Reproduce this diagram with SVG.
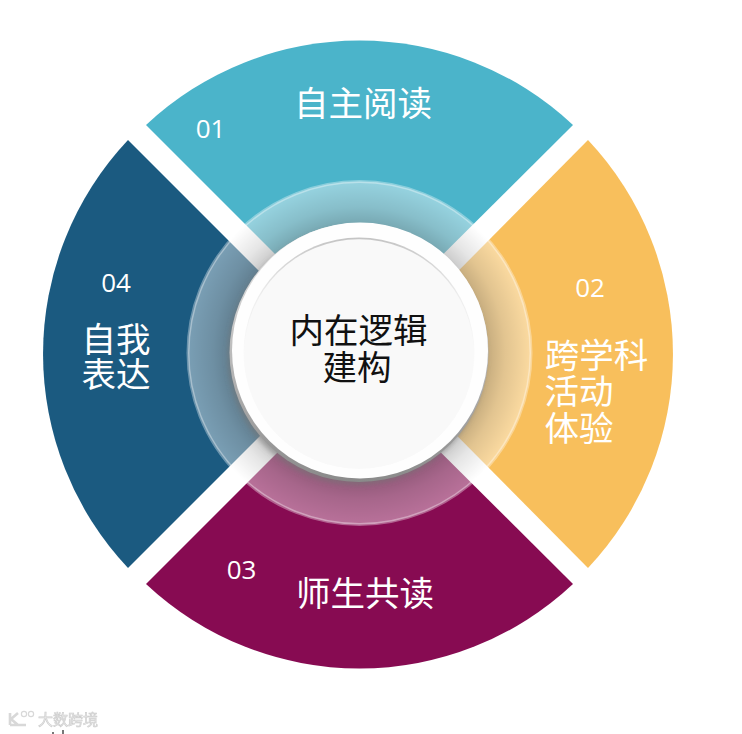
<svg xmlns="http://www.w3.org/2000/svg" width="742" height="734" viewBox="0 0 742 734">
<style>
.t{font-family:"Noto Sans CJK SC","Liberation Sans",sans-serif;font-size:34.5px;fill:#fff;text-anchor:middle}
.n{font-family:"Open Sans","Liberation Sans",sans-serif;font-size:26px;fill:#fff;text-anchor:middle}
.c{fill:#111}
</style>
<defs>
<radialGradient id="ringShade" gradientUnits="userSpaceOnUse" cx="359" cy="353" r="172">
<stop offset="0.72" stop-color="#000" stop-opacity="0.24"/>
<stop offset="0.85" stop-color="#000" stop-opacity="0.1"/>
<stop offset="1" stop-color="#000" stop-opacity="0"/>
</radialGradient>
<linearGradient id="rim" x1="0" y1="0" x2="0" y2="1">
<stop offset="0" stop-color="#ededed"/>
<stop offset="1" stop-color="#8a8a8a"/>
</linearGradient>
<linearGradient id="innerEdge" x1="0" y1="0" x2="0" y2="1">
<stop offset="0" stop-color="#c4c4c4"/>
<stop offset="0.25" stop-color="#ededed"/>
<stop offset="0.5" stop-color="#fafafa"/>
<stop offset="1" stop-color="#fafafa"/>
</linearGradient>
<filter id="soft" x="-20%" y="-20%" width="140%" height="140%"><feGaussianBlur stdDeviation="2.5"/></filter>
<filter id="wm" x="-10%" y="-30%" width="120%" height="160%"><feGaussianBlur stdDeviation="0.6"/></filter>
</defs>
<rect width="742" height="734" fill="#fff"/>
<g id="node-01"><path d="M146,125 A312,312 0 0 1 573,125 L359,338 Z" fill="#4bb4ca"/></g>
<g id="node-02"><path d="M588,140 A312,312 0 0 1 588,568 L376,354 Z" fill="#f8bf5c"/></g>
<g id="node-03"><path d="M573,584 A312,312 0 0 1 146,584 L359,371 Z" fill="#870b52"/></g>
<g id="node-04"><path d="M128,568 A312,312 0 0 1 128,140 L342,354 Z" fill="#1b5a80"/></g>
<g id="ring">
<circle cx="359.500" cy="353" r="171.500" fill="#fff" fill-opacity="0.42" stroke="#fff" stroke-opacity="0.35" stroke-width="3"/>
<circle cx="359" cy="353" r="172" fill="url(#ringShade)"/>
</g>
<g id="node-center">
<circle cx="357" cy="356" r="129" fill="#777" fill-opacity="0.55" filter="url(#soft)"/>
<circle cx="359" cy="352.500" r="129.500" fill="url(#rim)"/>
<circle cx="360" cy="350.500" r="128" fill="#fefefe"/>
<circle cx="359" cy="353" r="115.500" fill="url(#innerEdge)"/>
<circle cx="359" cy="354" r="114.800" fill="#f9f9f9"/>
<text class="t c" x="358.500" y="343">内在逻辑</text>
<text class="t c" x="357" y="380">建构</text>
</g>
<g id="labels">
<text class="t" x="363" y="116">自主阅读</text>
<text class="n" x="210.500" y="138">01</text>
<text class="t" x="596.500" y="368">跨学科</text>
<text class="t" x="579" y="404">活动</text>
<text class="t" x="579" y="441">体验</text>
<text class="n" x="590" y="297">02</text>
<text class="t" x="365" y="606">师生共读</text>
<text class="n" x="241.500" y="579">03</text>
<text class="t" x="116" y="352">自我</text>
<text class="t" x="116" y="387">表达</text>
<text class="n" x="116" y="292">04</text>
</g>
<g id="watermark" filter="url(#wm)">
<path d="M10,713V725M11,719L18,713M11,719L18,725M10,725H26" fill="none" stroke="#d8d8d8" stroke-width="2.600"/>
<circle cx="24" cy="714" r="2.600" fill="none" stroke="#d8d8d8" stroke-width="1.200"/>
<circle cx="31" cy="714" r="2.600" fill="none" stroke="#d8d8d8" stroke-width="1.200"/>
<text x="38" y="725" font-family="Noto Sans CJK SC,sans-serif" font-size="15px" fill="#eee" stroke="#cfcfcf" stroke-width="0.700">大数跨境</text>
<rect x="52" y="732" width="2" height="2" fill="#777"/>
<rect x="62" y="730" width="2" height="4" fill="#777"/>
</g>
</svg>
